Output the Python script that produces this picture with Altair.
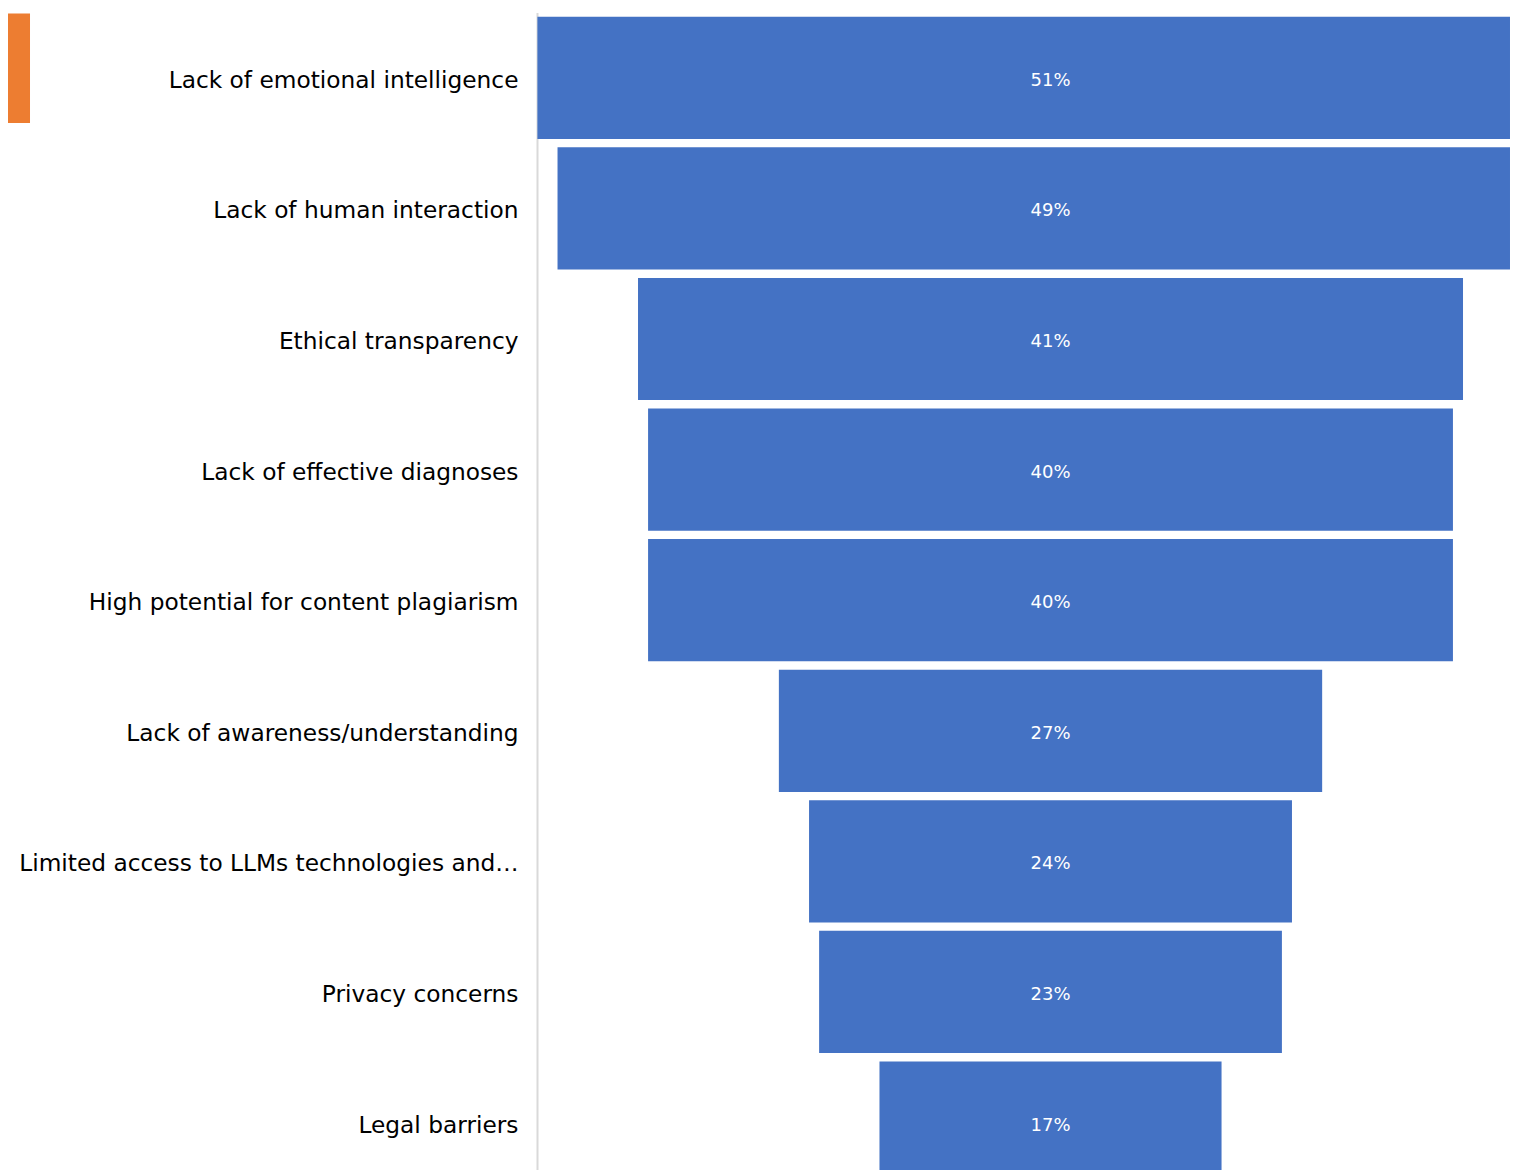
import altair as alt
import pandas as pd

categories = [
    "Lack of emotional intelligence",
    "Lack of human interaction",
    "Ethical transparency",
    "Lack of effective diagnoses",
    "High potential for content plagiarism",
    "Lack of awareness/understanding",
    "Limited access to LLMs technologies and…",
    "Privacy concerns",
    "Legal barriers",
]
values = [51, 49, 41, 40, 40, 27, 24, 23, 17]
labels = ["51%", "49%", "41%", "40%", "40%", "27%", "24%", "23%", "17%"]

df = pd.DataFrame({"category": categories, "value": values, "label": labels})

FONT = "DejaVu Sans"
y_enc = alt.Y(
    "category:N",
    sort=categories,
    scale=alt.Scale(paddingInner=0.064, paddingOuter=0.032),
    axis=alt.Axis(
        title=None,
        ticks=False,
        tickSize=0,
        grid=False,
        labelFont=FONT,
        labelFontSize=23.3,
        labelColor="#000000",
        labelPadding=19,
        labelOffset=3,
        labelLimit=700,
        domainColor="#d9d9d9",
        domainWidth=2,
    ),
)
x_scale = alt.Scale(domain=[-51.04, 45.67], nice=False, zero=False)

base = alt.Chart(df)

bars = base.transform_calculate(lo="-datum.value").mark_bar(
    color="#4472C4", clip=True
).encode(
    x=alt.X("lo:Q", scale=x_scale, axis=None),
    x2="value:Q",
    y=y_enc,
)

text = base.transform_calculate(zero="0").mark_text(
    color="#ffffff", font=FONT, fontSize=18, align="center", baseline="middle", dy=3
).encode(
    x=alt.X("zero:Q", scale=x_scale, axis=None),
    y=alt.Y("category:N", sort=categories),
    text="label:N",
)

legend_rect = alt.Chart(pd.DataFrame({"k": [0]})).mark_rect(color="#ED7D31").encode(
    x=alt.value(-529),
    x2=alt.value(-507),
    y=alt.value(1),
    y2=alt.value(110.5),
)

chart = alt.layer(bars, text, legend_rect).properties(
    width=973,
    height=1175.4,
    background="#ffffff",
    autosize=alt.AutoSizeParams(type="none"),
    padding={"left": 529, "top": 4.5, "right": 0, "bottom": 0},
).configure_view(stroke="transparent", strokeWidth=0)

chart.save("out.html", embed_options={"renderer": "svg", "actions": False})
